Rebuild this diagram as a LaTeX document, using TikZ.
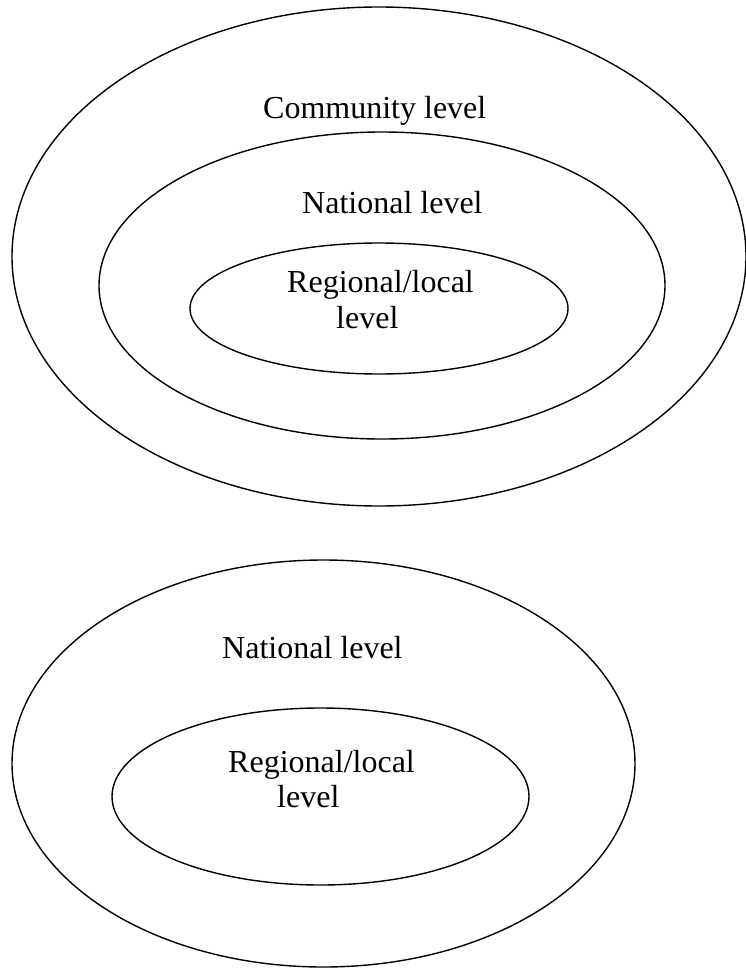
\documentclass[tikz,border=0pt]{standalone}
\usepackage{fontspec}
\setmainfont{Liberation Serif}
\usetikzlibrary{shapes.geometric}
\begin{document}
\begin{tikzpicture}[x=1pt,y=-1pt,
  ring/.style={draw=black, line width=1.4pt, ellipse, inner sep=0pt, fill=none},
  lbl/.style={anchor=base west, inner sep=0pt, font=\fontsize{32}{36}\selectfont}]
\useasboundingbox[fill=white] (0,0) rectangle (746,969);
% top group
\node[ring, minimum width=734pt, minimum height=499pt] (outerA) at (379,256.5) {};
\node[ring, minimum width=566pt, minimum height=307pt] (midA) at (382,285.5) {};
\node[ring, minimum width=378pt, minimum height=131pt] (innerA) at (379,308.5) {};
\node[lbl] (commA) at (263,118) {Community level};
\node[lbl] (natA) at (302,213) {National level};
\node[lbl] (regA) at (287,292) {Regional/local};
\node[lbl] (levA) at (336,328) {level};
% bottom group
\node[ring, minimum width=623pt, minimum height=407pt] (outerB) at (323.5,763.5) {};
\node[ring, minimum width=417pt, minimum height=177pt] (innerB) at (320.5,796.5) {};
\node[lbl] (natB) at (222,658) {National level};
\node[lbl] (regB) at (228,772) {Regional/local};
\node[lbl] (levB) at (277,807) {level};
\end{tikzpicture}
\end{document}
